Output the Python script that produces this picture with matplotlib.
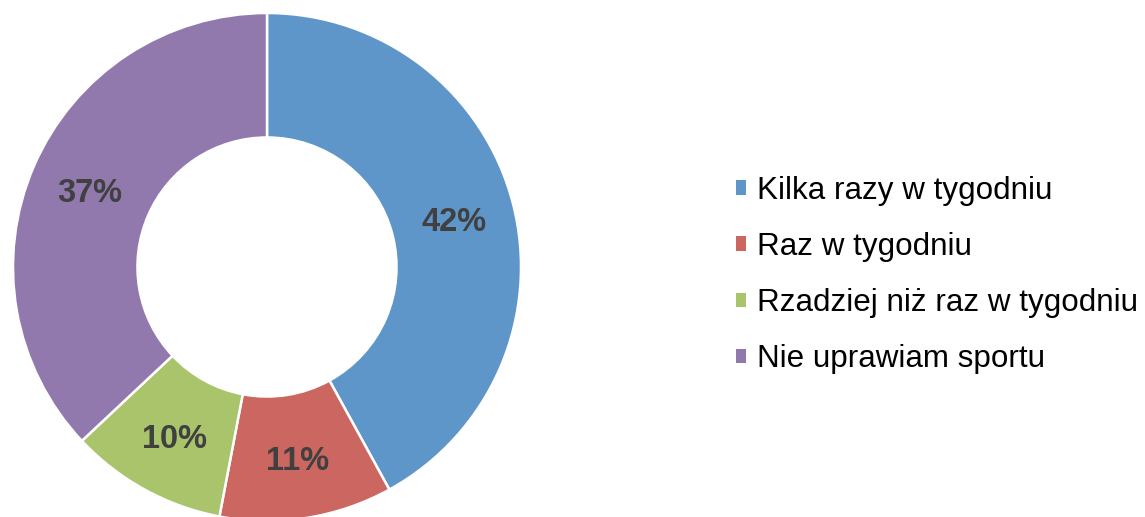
import matplotlib
matplotlib.use("Agg")
import matplotlib.pyplot as plt
from matplotlib.patches import Patch

categories = ["Kilka razy w tygodniu", "Raz w tygodniu",
              "Rzadziej niż raz w tygodniu", "Nie uprawiam sportu"]
shares = [42, 11, 10, 37]
colors = ["#5f96c9", "#cc6660", "#a9c46b", "#9179ae"]

plt.rcParams['font.family'] = ['Liberation Sans', 'DejaVu Sans']

fig = plt.figure(figsize=(11.45, 5.17), dpi=100, facecolor='#ffffff')
# pie centred at (267, 267) px from top, radius 254 px
ax = fig.add_axes([13 / 1145, (517 - 267 - 254) / 517, 508 / 1145, 508 / 517])
wedges, texts, autotexts = ax.pie(
    shares, colors=colors, startangle=90, counterclock=False, radius=1.0,
    autopct=lambda p: f"{p:.0f}%", pctdistance=0.76,
    wedgeprops=dict(width=0.49, edgecolor='#ffffff', linewidth=1.8),
    textprops=dict(fontsize=23.5, fontweight='bold', color='#404040'))
for t in autotexts:
    t.set_verticalalignment('center_baseline')
ax.set_xlim(-1, 1)
ax.set_ylim(-1, 1)
ax.set_aspect('equal')
ax.axis('off')

handles = [Patch(facecolor=c, edgecolor='none') for c in colors]
fig.legend(handles, categories, loc='center left',
           bbox_to_anchor=(736 / 1145, (517 - 275) / 517),
           frameon=False, fontsize=22.6, borderpad=0, borderaxespad=0,
           handlelength=0.33, handleheight=0.33, handletextpad=0.35,
           labelspacing=0.83)

fig.savefig("out.png", dpi=100)
